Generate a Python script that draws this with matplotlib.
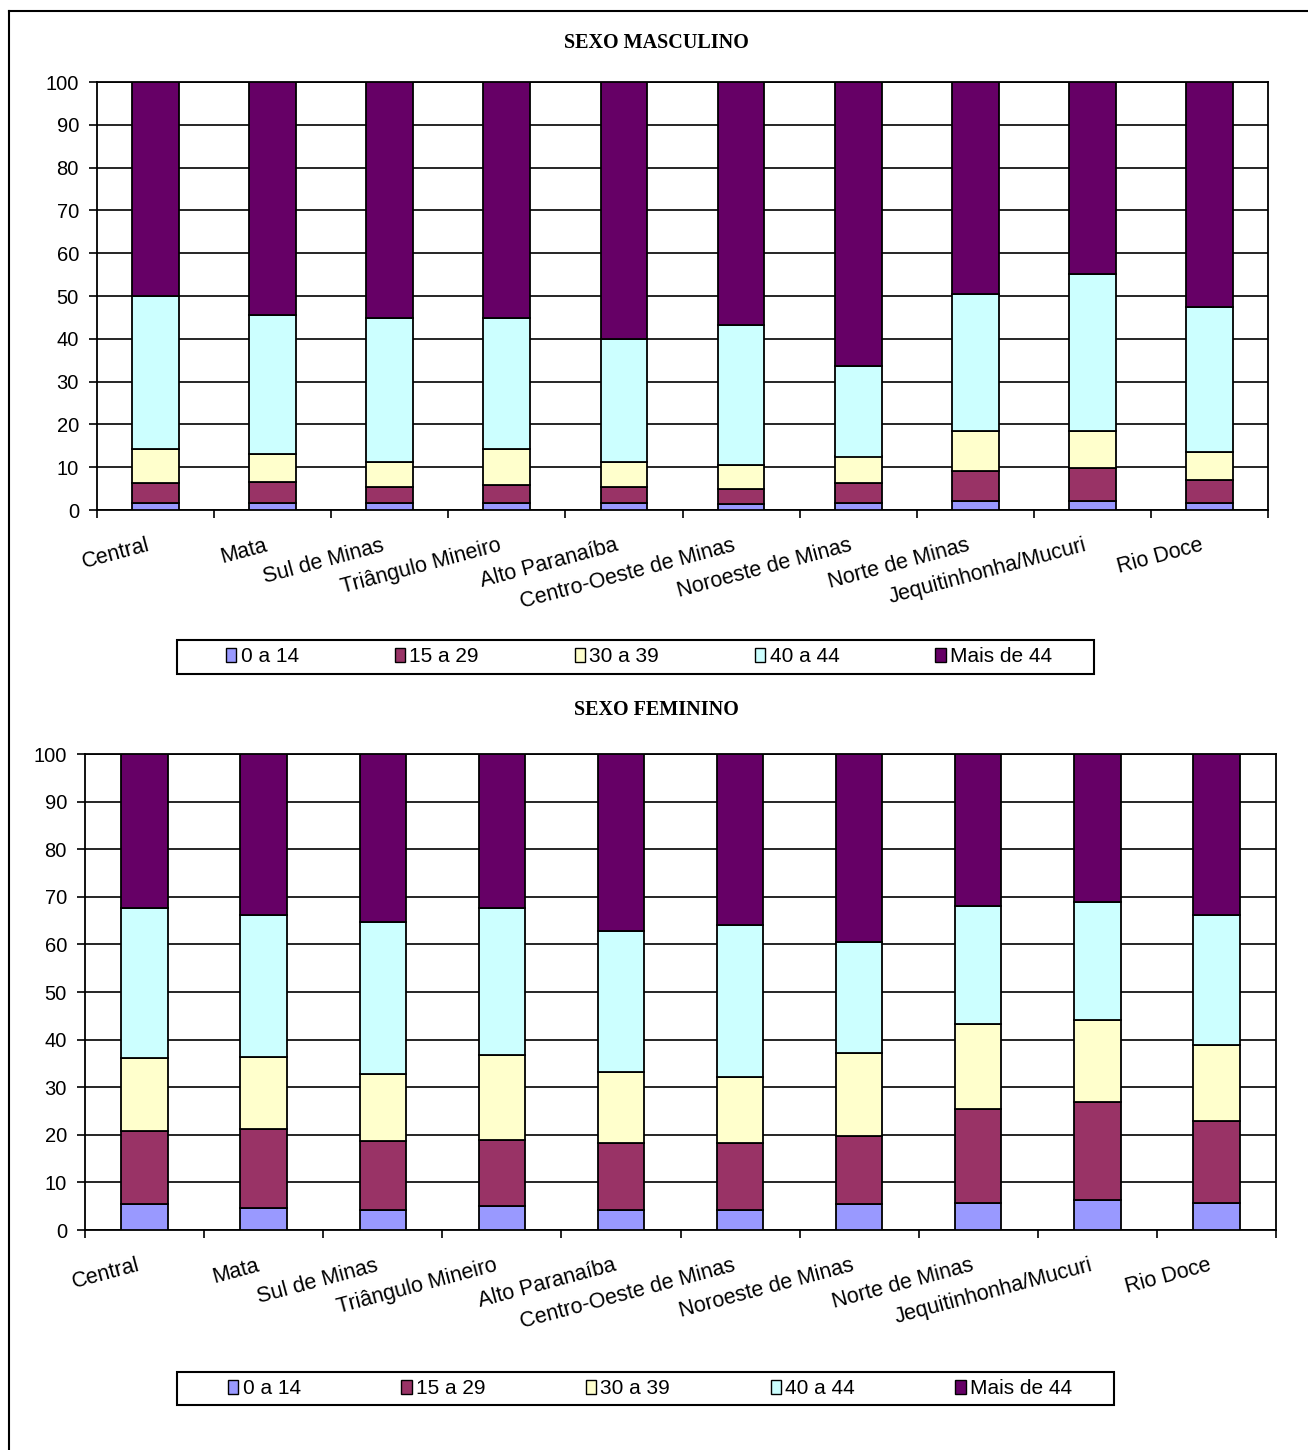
import matplotlib
matplotlib.use('Agg')
import matplotlib.pyplot as plt
import numpy as np
from matplotlib.patches import Patch, Rectangle
from matplotlib.lines import Line2D
from matplotlib.transforms import ScaledTranslation

plt.rcParams['font.family'] = ['Liberation Sans', 'DejaVu Sans']

regioes = ['Central', 'Mata', 'Sul de Minas', 'Triângulo Mineiro', 'Alto Paranaíba',
           'Centro-Oeste de Minas', 'Noroeste de Minas', 'Norte de Minas',
           'Jequitinhonha/Mucuri', 'Rio Doce']
faixas = ['0 a 14', '15 a 29', '30 a 39', '40 a 44', 'Mais de 44']
cores = ['#9999FF', '#993366', '#FFFFCC', '#CCFFFF', '#660066']

## Sexo masculino (% por faixa etaria)
masc_0_14 = [1.7, 1.7, 1.7, 1.7, 1.7, 1.4, 1.7, 2.1, 2.1, 1.7]
masc_15_29 = [4.5, 4.9, 3.7, 4.1, 3.7, 3.5, 4.5, 6.9, 7.6, 5.3]
masc_30_39 = [8.1, 6.6, 5.9, 8.5, 5.7, 5.6, 6.3, 9.5, 8.8, 6.6]
masc_40_44 = [35.7, 32.4, 33.5, 30.5, 28.9, 32.7, 21.1, 32.0, 36.6, 33.9]
masc_mais_44 = [50.0, 54.4, 55.2, 55.2, 60.0, 56.8, 66.4, 49.5, 44.9, 52.5]

## Sexo feminino (% por faixa etaria)
fem_0_14 = [5.4, 4.7, 4.3, 5.0, 4.3, 4.3, 5.4, 5.7, 6.4, 5.7]
fem_15_29 = [15.5, 16.5, 14.3, 14.0, 13.9, 13.9, 14.3, 19.7, 20.5, 17.3]
fem_30_39 = [15.2, 15.2, 14.2, 17.8, 14.9, 13.9, 17.4, 17.9, 17.2, 15.9]
fem_40_44 = [31.5, 29.8, 32.0, 30.8, 29.8, 32.0, 23.3, 24.8, 24.9, 27.3]
fem_mais_44 = [32.4, 33.8, 35.2, 32.4, 37.1, 35.9, 39.6, 31.9, 31.0, 33.8]

W, H = 1308, 1450
fig = plt.figure(figsize=(W / 100, H / 100), dpi=100)


def caixa(left, top, right, bottom):
    # pixel box -> figure fraction
    return [left / W, 1 - bottom / H, (right - left) / W, (bottom - top) / H]


def grafico(pos, series, largura, dx):
    ax = fig.add_axes(caixa(*pos))
    x = np.arange(len(regioes))
    base = np.zeros(len(regioes))
    for vals, cor in zip(series, cores):
        ax.bar(x, vals, largura, bottom=base, color=cor, edgecolor='black',
               linewidth=1.3, zorder=3)
        base = base + np.array(vals)
    ax.set_xlim(-0.5, len(regioes) - 0.5)
    ax.set_ylim(0, 100)
    ax.set_yticks(range(0, 101, 10))
    ax.yaxis.grid(True, color='black', linewidth=1.2)
    ax.set_axisbelow(True)
    ax.set_xticks(x)
    ax.set_xticklabels(regioes, rotation=15, ha='right', rotation_mode='anchor', fontsize=15.5)
    ax.set_xticks(np.arange(-0.5, len(regioes), 1), minor=True)
    ax.tick_params(axis='x', which='major', length=0, pad=18)
    ax.tick_params(axis='x', which='minor', length=6, width=1.2, direction='out')
    ax.tick_params(axis='y', length=6, width=1.2, direction='out', pad=7, labelsize=14.5)
    for s in ax.spines.values():
        s.set_linewidth(1.3)
    for lab in ax.get_xticklabels():
        lab.set_transform(lab.get_transform() + ScaledTranslation(dx / 100, 0, fig.dpi_scale_trans))
    return ax


def legenda(frame, conteudo):
    l, t, r, b = frame
    fig.add_artist(Rectangle((l / W, 1 - b / H), (r - l) / W, (b - t) / H,
                             transform=fig.transFigure, facecolor='none',
                             edgecolor='black', linewidth=1.5))
    cl, cr = conteudo
    handles = [Patch(facecolor=c, edgecolor='black', linewidth=1.0) for c in cores]
    fig.legend(handles, faixas, loc='center', ncol=5, mode='expand', frameon=False,
               bbox_to_anchor=(cl / W, 1 - b / H, (cr - cl) / W, (b - t) / H),
               fontsize=15, handlelength=0.5, handleheight=0.65, handletextpad=0.2,
               borderpad=0, borderaxespad=0)


grafico((97, 82, 1268, 510),
        [masc_0_14, masc_15_29, masc_30_39, masc_40_44, masc_mais_44], 0.40, -9)
grafico((85, 754, 1276, 1230),
        [fem_0_14, fem_15_29, fem_30_39, fem_40_44, fem_mais_44], 0.39, -8)

fig.text(656 / W, 1 - 43 / H, 'SEXO MASCULINO', ha='center', va='center',
         fontsize=14.5, fontweight='bold', family='Liberation Serif')
fig.text(656 / W, 1 - 710 / H, 'SEXO FEMININO', ha='center', va='center',
         fontsize=14.5, fontweight='bold', family='Liberation Serif')

legenda((177, 640, 1094, 674), (226, 1052))
legenda((177, 1372, 1114, 1405), (228, 1072))

# moldura externa
fig.add_artist(Line2D([9 / W, 1], [1 - 10.5 / H, 1 - 10.5 / H], transform=fig.transFigure,
                      color='black', linewidth=1.5))
fig.add_artist(Line2D([9 / W, 9 / W], [1 - 10.5 / H, 0], transform=fig.transFigure,
                      color='black', linewidth=1.5))

fig.savefig('out.png', dpi=100)
